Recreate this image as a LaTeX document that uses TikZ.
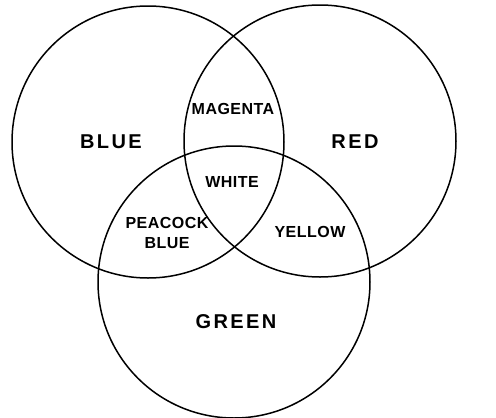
\documentclass[tikz,border=0pt]{standalone}
\usepackage{fontspec}
\newfontfamily\bigfont[LetterSpace=12]{Liberation Sans}
\newfontfamily\smallfont[LetterSpace=3]{Liberation Sans}
\usetikzlibrary{positioning}

\begin{document}
\begin{tikzpicture}[x=1pt, y=-1pt,
  ring/.style={draw, circle, minimum size=272pt, inner sep=0pt, line width=1.5pt},
  primary/.style={font=\bigfont\bfseries\fontsize{20}{22}\selectfont, inner sep=0pt},
  mixed/.style={font=\smallfont\bfseries\fontsize{16}{20}\selectfont, inner sep=0pt, align=center}
]
  \useasboundingbox[fill=white] (0,0) rectangle (496,418);

  \node[ring] (blue) at (148,142) {};
  \node[ring] (red) at (320,141) {};
  \node[ring] (green) at (234,282) {};

  \node[primary] (bluetext) at (111,142) {BLUE};
  \node[primary] (redtext) at (355,142) {RED};
  \node[primary] (greentext) at (236,322) {GREEN};

  \node[mixed] (magenta) at (233,109) {MAGENTA};
  \node[mixed] (white) at (232,182) {WHITE};
  \node[mixed] (peacock) at (167,233) {PEACOCK\\BLUE};
  \node[mixed] (yellow) at (310,232) {YELLOW};
\end{tikzpicture}
\end{document}
